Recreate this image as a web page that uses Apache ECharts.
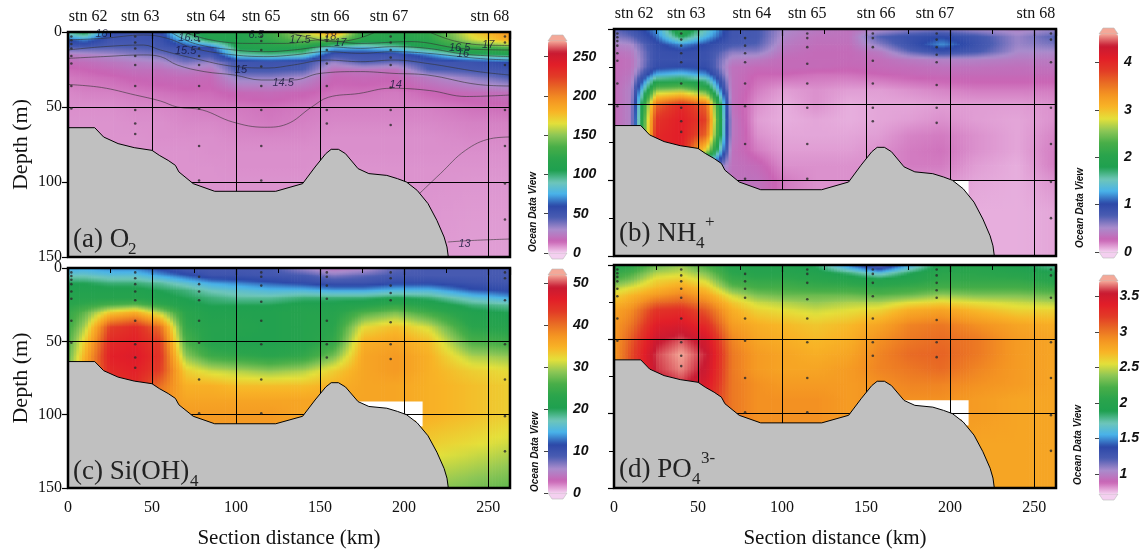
<!DOCTYPE html>
<html>
<head>
<meta charset="utf-8">
<script src="https://cdn.jsdelivr.net/npm/echarts/dist/echarts.min.js"></script>
<style>
  html, body { margin: 0; padding: 0; background: #fff; }
  #chart { width: 1142px; height: 550px; }
</style>
</head>
<body>
<div id="chart"></div>
<script>
// section grid (km along section, depth in m)
var distKm = [0, 10, 25, 40, 55, 70, 85, 102, 120, 140, 158, 176, 195, 215, 240, 263];
var depthM = [0, 5, 10, 15, 20, 25, 30, 40, 50, 60, 70, 80, 90, 100, 120, 150];

// (a) O2, rows = depthM, cols = distKm
var o2Values = [
    [95, 110, 58, 50, 55, 105, 115, 115, 130, 160, 195, 125, 120, 125, 170, 195],
    [62, 70, 50, 50, 52, 80, 110, 112, 125, 145, 150, 118, 115, 120, 160, 185],
    [45, 46, 44, 45, 48, 55, 60, 110, 115, 115, 80, 80, 90, 110, 130, 140],
    [24, 26, 30, 35, 38, 48, 48, 90, 95, 90, 50, 50, 52, 70, 100, 105],
    [18, 19, 22, 25, 28, 38, 33, 50, 52, 50, 33, 45, 40, 50, 52, 60],
    [14, 15, 17, 20, 20, 25, 22, 48, 48, 45, 20, 22, 20, 45, 48, 50],
    [12, 13, 14, 16, 17, 18, 17, 35, 35, 30, 16, 17, 16, 25, 35, 45],
    [10, 11, 11, 12, 13, 14, 14, 17, 18, 16, 13, 13, 12, 15, 18, 20],
    [9, 9, 9, 10, 10, 11, 12, 12, 13, 12, 11, 11, 11, 11, 13, 14],
    [8.5, 8.5, 8.5, 9, 9, 10, 10, 11, 12, 11, 10, 10, 10, 10, 11, 11],
    [8.5, 8.5, 8.5, 8.5, 9, 9, 9, 10, 10, 10, 9, 9, 9, 9, 10, 10],
    [8.5, 8.5, 8.5, 8.5, 8.5, 8.5, 9, 9, 9, 9, 9, 9, 9, 9, 9, 9],
    [8.5, 8.5, 8.5, 8.5, 8.5, 8.5, 8.5, 9, 9, 9, 8.5, 8.5, 8.5, 8.5, 8.5, 8.5],
    [8.5, 8.5, 8.5, 8.5, 8.5, 8.5, 8.5, 8.5, 8.5, 8.5, 8.5, 8.5, 8.5, 8.5, 8, 8],
    [8.5, 8.5, 8.5, 8.5, 8.5, 8.5, 8.5, 8.5, 8.5, 8.5, 8.5, 8.5, 8.5, 8, 7.5, 7.5],
    [8.5, 8.5, 8.5, 8.5, 8.5, 8.5, 8.5, 8.5, 8.5, 8.5, 8.5, 8.5, 8, 7.5, 7, 7]
];

// (b) NH4+
var nh4Values = [
    [0.70, 0.85, 1.20, 2.10, 1.50, 0.85, 0.80, 0.50, 0.40, 0.35, 0.45, 0.55, 0.60, 0.50, 0.45, 0.55],
    [0.60, 0.70, 1.10, 1.80, 1.30, 0.85, 0.80, 0.45, 0.35, 0.35, 0.75, 0.90, 1.00, 0.85, 0.55, 0.75],
    [0.45, 0.50, 0.95, 1.20, 1.00, 0.80, 0.75, 0.40, 0.33, 0.33, 0.60, 0.90, 1.20, 0.90, 0.55, 0.65],
    [0.35, 0.40, 0.90, 0.95, 0.90, 0.60, 0.60, 0.35, 0.30, 0.30, 0.40, 0.70, 0.90, 0.80, 0.50, 0.50],
    [0.30, 0.35, 0.90, 0.90, 0.90, 0.45, 0.40, 0.30, 0.30, 0.30, 0.32, 0.40, 0.45, 0.45, 0.40, 0.40],
    [0.30, 0.35, 0.95, 1.00, 0.95, 0.35, 0.30, 0.30, 0.30, 0.28, 0.30, 0.32, 0.35, 0.35, 0.33, 0.35],
    [0.30, 0.38, 1.30, 1.40, 1.20, 0.35, 0.25, 0.25, 0.22, 0.22, 0.25, 0.28, 0.30, 0.30, 0.30, 0.30],
    [0.30, 0.45, 2.50, 2.60, 2.20, 0.35, 0.20, 0.12, 0.15, 0.12, 0.12, 0.15, 0.18, 0.20, 0.20, 0.20],
    [0.30, 0.45, 3.60, 4.00, 3.60, 0.35, 0.15, 0.08, 0.15, 0.08, 0.10, 0.10, 0.12, 0.12, 0.12, 0.15],
    [0.30, 0.45, 3.90, 4.10, 3.80, 0.40, 0.12, 0.08, 0.10, 0.08, 0.10, 0.12, 0.15, 0.12, 0.10, 0.15],
    [0.30, 0.45, 4.00, 4.10, 3.60, 0.40, 0.15, 0.10, 0.10, 0.10, 0.12, 0.18, 0.20, 0.15, 0.10, 0.18],
    [0.30, 0.45, 4.00, 4.10, 2.80, 0.35, 0.20, 0.12, 0.12, 0.12, 0.15, 0.20, 0.22, 0.15, 0.10, 0.20],
    [0.30, 0.45, 4.00, 4.00, 1.00, 0.35, 0.30, 0.15, 0.15, 0.15, 0.15, 0.20, 0.20, 0.12, 0.08, 0.20],
    [0.30, 0.45, 4.00, 4.00, 0.60, 0.35, 0.35, 0.20, 0.15, 0.15, 0.15, 0.15, 0.15, 0.10, 0.08, 0.15],
    [0.30, 0.45, 4.00, 4.00, 0.60, 0.35, 0.35, 0.20, 0.15, 0.15, 0.15, 0.15, 0.12, 0.08, 0.08, 0.10],
    [0.30, 0.45, 4.00, 4.00, 0.60, 0.35, 0.35, 0.20, 0.15, 0.15, 0.15, 0.15, 0.10, 0.08, 0.08, 0.10]
];

// (c) Si(OH)4
var siValues = [
    [14, 14, 13, 13, 11, 9, 9, 9, 9, 6, 4, 5, 8, 9, 9, 9],
    [17, 17, 16, 16, 14, 12, 10, 10, 9.5, 9, 7, 8, 9, 9, 9, 9],
    [20, 20, 19, 19, 18, 16, 14, 13, 12, 11, 10, 10, 11, 11, 10, 9.5],
    [21, 21, 21, 21, 20, 19, 17, 16, 15, 15, 14, 14, 15, 15, 12, 11],
    [22, 22, 22, 22, 21, 20, 19, 18, 18, 19, 19, 19, 20, 19, 16, 14],
    [23, 24, 26, 27, 24, 21, 20, 20, 20, 21, 21, 22, 24, 22, 19, 18],
    [24, 27, 33, 35, 30, 23, 21, 21, 21, 22, 22, 26, 28, 25, 21, 20],
    [25, 30, 43, 45, 40, 24, 22, 22, 21, 22, 23, 32, 34, 31, 23, 22],
    [26, 33, 45, 46, 43, 26, 22, 21, 21, 22, 24, 35, 36, 34, 26, 25],
    [27, 35, 46, 47, 44, 29, 25, 24, 23, 24, 28, 36, 37, 35, 30, 29],
    [28, 36, 45, 46, 43, 33, 31, 30, 29, 30, 33, 36, 37, 35, 33, 32],
    [30, 36, 44, 45, 40, 35, 35, 34, 34, 34, 35, 36, 36, 35, 34, 33],
    [32, 36, 43, 44, 38, 36, 36, 36, 36, 36, 36, 36, 36, 35, 34, 33],
    [33, 36, 42, 43, 37, 37, 37, 37, 37, 36, 36, 36, 36, 35, 34, 33],
    [33, 36, 42, 42, 37, 37, 37, 37, 37, 36, 36, 35, 34, 33, 32, 31],
    [33, 36, 42, 42, 37, 37, 37, 37, 37, 36, 36, 35, 32, 29, 28, 27]
];

// (d) PO4 3-
var po4Values = [
    [2.0, 2.05, 2.3, 2.4, 2.2, 2.0, 1.95, 1.95, 1.85, 1.45, 1.15, 1.55, 1.95, 2.0, 1.9, 1.75],
    [2.1, 2.2, 2.45, 2.5, 2.35, 2.05, 2.0, 2.0, 1.95, 1.8, 1.6, 1.85, 2.05, 2.05, 2.0, 1.9],
    [2.25, 2.35, 2.6, 2.65, 2.5, 2.15, 2.1, 2.1, 2.05, 2.0, 1.95, 2.0, 2.1, 2.1, 2.1, 2.0],
    [2.45, 2.55, 2.7, 2.8, 2.65, 2.3, 2.2, 2.2, 2.15, 2.15, 2.1, 2.15, 2.2, 2.2, 2.2, 2.15],
    [2.6, 2.7, 2.85, 2.95, 2.8, 2.5, 2.35, 2.3, 2.3, 2.3, 2.25, 2.3, 2.4, 2.35, 2.35, 2.3],
    [2.7, 2.8, 3.05, 3.1, 2.95, 2.65, 2.5, 2.45, 2.4, 2.45, 2.45, 2.55, 2.6, 2.55, 2.5, 2.45],
    [2.8, 2.9, 3.25, 3.3, 3.1, 2.75, 2.6, 2.55, 2.5, 2.55, 2.6, 2.75, 2.8, 2.7, 2.6, 2.6],
    [2.85, 3.0, 3.4, 3.45, 3.3, 2.85, 2.75, 2.7, 2.65, 2.7, 2.8, 2.95, 3.0, 2.9, 2.8, 2.75],
    [2.85, 3.1, 3.52, 3.62, 3.48, 2.95, 2.8, 2.75, 2.7, 2.75, 2.9, 3.0, 3.05, 3.0, 2.85, 2.8],
    [2.85, 3.15, 3.6, 3.72, 3.56, 3.0, 2.85, 2.8, 2.75, 2.8, 2.95, 3.05, 3.08, 3.0, 2.85, 2.8],
    [2.85, 3.15, 3.58, 3.68, 3.52, 3.0, 2.85, 2.8, 2.8, 2.85, 2.95, 3.0, 3.05, 2.95, 2.85, 2.8],
    [2.85, 3.1, 3.5, 3.58, 3.45, 3.0, 2.9, 2.85, 2.85, 2.85, 2.9, 2.95, 2.95, 2.9, 2.85, 2.8],
    [2.85, 3.05, 3.45, 3.5, 3.35, 3.0, 2.9, 2.9, 2.9, 2.85, 2.9, 2.9, 2.9, 2.85, 2.8, 2.8],
    [2.85, 3.05, 3.45, 3.5, 3.35, 3.0, 2.9, 2.9, 2.9, 2.85, 2.85, 2.85, 2.85, 2.85, 2.8, 2.8],
    [2.85, 3.05, 3.45, 3.5, 3.35, 3.0, 2.9, 2.9, 2.9, 2.85, 2.85, 2.85, 2.85, 2.8, 2.8, 2.8],
    [2.85, 3.05, 3.45, 3.5, 3.35, 3.0, 2.9, 2.9, 2.9, 2.85, 2.85, 2.85, 2.85, 2.8, 2.8, 2.8]
];

// bottom topography (km, m)
var bottomDepth = [
    [0, 63.8], [15.9, 63.8], [21.2, 70], [29.8, 74.4], [39.4, 77.1], [50, 78.9],
    [54.3, 82.2], [59.6, 85.6], [63.9, 88.9], [66, 93.3], [74.5, 101.1], [87.3, 106.2],
    [123.6, 106.2], [139.6, 101.1], [147, 90], [153.4, 81.1], [156.6, 78.2], [160.9, 78.2],
    [165.1, 81.1], [172.6, 91.1], [179, 94.4], [189.7, 95.6], [196.1, 97.8], [201.4, 100],
    [207.8, 105.6], [214.2, 114.4], [219.5, 125.6], [223.8, 136.7], [225.5, 143.3], [226.3, 150]
];

// no-data patches
var gapNutrients = [[172, 91], [211, 91], [211, 108], [207, 108], [207, 104], [172, 104]];
var gapAmmonium = [[200, 100], [211, 100], [211, 111], [200, 111]];

// stations
var stationNames = ['stn 62', 'stn 63', 'stn 64', 'stn 65', 'stn 66', 'stn 67', 'stn 68'];
var stationLabelKm = [12, 43, 82, 115, 156, 191, 251];
var stationKm = [2, 40, 78, 115, 154, 192, 260];
var sampleDepths = [
    [3, 5.5, 8, 11, 16, 21, 36, 51],
    [3, 7, 11, 16, 22, 36, 52, 61, 68],
    [6, 11, 16, 22, 36, 51, 76, 99],
    [3, 6, 12, 23, 36, 52, 76, 99],
    [3, 6, 12, 21, 36, 52, 61],
    [3, 7, 12, 17, 22, 37, 52, 62],
    [3, 7, 22, 52, 76, 101, 125]
];

// contour lines drawn over (a)
var iso13 = [[226, 140], [240, 139], [263, 138]];
var iso13b = [[208, 108.9], [221.6, 94.4], [236.5, 78.9], [251.5, 71.1], [263, 70]];
var iso14 = [[0, 35], [20, 37], [40, 42], [55, 46], [65, 50], [80, 52], [98, 60], [117, 63.5], [130, 61.5],
    [145, 50], [155, 43.5], [173, 41], [192, 37.5], [215, 39], [237, 43], [263, 42]];
var iso145 = [[0, 17.6], [21, 16.4], [45, 15.3], [55, 16.4], [65, 22], [81, 26.4], [99, 28.7], [115, 32],
    [134, 32], [150, 27.6], [174, 26.4], [194, 27.6], [214, 28.7], [244, 35], [263, 36]];
var iso15 = [[0, 12], [21, 9.8], [45, 8.7], [55, 12], [75, 17.6], [99, 23], [119, 24], [134, 22],
    [154, 18.7], [174, 19.8], [194, 18.7], [214, 21], [244, 26.4], [263, 28.7]];
var iso155 = [[0, 5.3], [21, 4.2], [45, 2], [59, 4.2], [75, 10.9], [99, 15.3], [119, 16.4], [134, 15.3],
    [154, 13.1], [174, 14.2], [194, 13.1], [214, 14.2], [244, 17.6], [263, 18.7]];
var iso16 = [[61, 0], [75, 7.6], [99, 12], [119, 13.1], [134, 12], [154, 9.8], [174, 10.9], [194, 9.8],
    [214, 10.9], [237, 14.9], [263, 16.4]];
var iso165 = [[69, 0], [85, 5.3], [107, 7.6], [130, 7.6], [150, 5.3], [174, 7.6], [204, 6.4], [234, 11], [263, 12]];
var iso17 = [[130, 0], [143, 3.5], [158, 6.5], [172, 4.5], [183, 0]];
var iso17b = [[215, 0], [230, 6], [248, 8.7], [263, 9]];
var contourLabels = [
    {name: '16', value: [20, 1]}, {name: '16.5', value: [72, 4]}, {name: '15.5', value: [70, 12.5]},
    {name: '15', value: [103, 25.5]}, {name: '14.5', value: [128, 34]}, {name: '14', value: [195, 35.5]},
    {name: '17.5', value: [138, 5]}, {name: '18', value: [156, 3]}, {name: '17', value: [162, 7]},
    {name: '16.5', value: [233, 10.5]}, {name: '16', value: [235, 14.5]}, {name: '17', value: [250, 8.5]},
    {name: '13', value: [236, 141]}, {name: '6.5', value: [112, 2]}
];

// colour bar ticks
var o2Ticks = [0, 50, 100, 150, 200, 250];
var nh4Ticks = [0, 1, 2, 3, 4];
var siTicks = [0, 10, 20, 30, 40, 50];
var po4Ticks = [1, 1.5, 2, 2.5, 3, 3.5];

// ODV default palette, evenly spaced from min to max
var odvColors = ['#f4d0f0', '#c964b4', '#a98ccc', '#4a5cb2', '#2c48a8', '#48b2ea', '#6ec6b8', '#1fa050',
    '#2aa44c', '#48ae48', '#8cc656', '#e4e03a', '#f8b426', '#f49422', '#e86a24', '#e23a26',
    '#e21e28', '#c81a32', '#f4a898'];

var panels = [
    {values: o2Values, min: 0, max: 270, ticks: o2Ticks, grid: {left: 68, top: 32, width: 442, height: 225},
        bar: {left: 548, top: 41, height: 212}, yLabels: true, xLabels: false, stations: true, gap: null, contours: true,
        odv: [533, 212]},
    {values: nh4Values, min: 0, max: 4.6, ticks: nh4Ticks, grid: {left: 614, top: 29, width: 442, height: 227},
        bar: {left: 1099, top: 34, height: 218}, yLabels: false, xLabels: false, stations: true, gap: gapAmmonium,
        odv: [1080, 208]},
    {values: siValues, min: 0, max: 52, ticks: siTicks, grid: {left: 68, top: 268, width: 442, height: 224},
        bar: {left: 548, top: 275, height: 218}, yLabels: true, xLabels: true, stations: false, gap: gapNutrients,
        odv: [535, 452]},
    {values: po4Values, min: 0.72, max: 3.72, ticks: po4Ticks, grid: {left: 614, top: 265, width: 442, height: 227},
        bar: {left: 1099, top: 281, height: 213}, yLabels: false, xLabels: true, stations: false, gap: gapNutrients,
        odv: [1078, 445]}
];

var serif = 'Liberation Serif';
var chart = echarts.init(document.getElementById('chart'));

function colorAt(v, min, max) {
    var t = (v - min) / (max - min);
    return echarts.color.lerp(Math.max(0, Math.min(1, t)), odvColors);
}

function gridItems(values) {
    var out = [];
    for (var j = 0; j < depthM.length; j++) {
        for (var i = 0; i < distKm.length; i++) {
            out.push([distKm[i], depthM[j], values[j][i]]);
        }
    }
    return out;
}

// each cell between four read values is shaded in thin strips
function fieldRenderer(p) {
    return function (params, api) {
        var n = distKm.length;
        var i = params.dataIndex % n, j = Math.floor(params.dataIndex / n);
        if (i >= n - 1 || j >= depthM.length - 1) return null;
        var M = p.values;
        var a = api.coord([distKm[i], depthM[j]]);
        var b = api.coord([distKm[i + 1], depthM[j + 1]]);
        var w = b[0] - a[0], h = b[1] - a[1];
        var strips = Math.max(1, Math.round(w / 3));
        var kids = [];
        for (var k = 0; k < strips; k++) {
            var t = (k + 0.5) / strips;
            var top = M[j][i] + (M[j][i + 1] - M[j][i]) * t;
            var bot = M[j + 1][i] + (M[j + 1][i + 1] - M[j + 1][i]) * t;
            var stops = [];
            for (var s = 0; s <= 4; s++) {
                stops.push({offset: s / 4, color: colorAt(top + (bot - top) * s / 4, p.min, p.max)});
            }
            kids.push({
                type: 'rect',
                shape: {x: a[0] + w * k / strips, y: a[1], width: w / strips + 0.7, height: h + 0.7},
                style: {fill: new echarts.graphic.LinearGradient(0, 0, 0, 1, stops)}
            });
        }
        return {type: 'group', children: kids};
    };
}

function polygonRenderer(points) {
    return function (params, api) {
        if (params.dataIndex !== 0) return null;
        return {type: 'polygon', shape: {points: points.map(function (pt) { return api.coord(pt); })},
            style: {fill: '#fff'}};
    };
}

var grids = [], xAxes = [], yAxes = [], series = [], visualMaps = [], graphics = [];

var dots = [];
stationKm.forEach(function (km, s) {
    sampleDepths[s].forEach(function (d) { dots.push([km, d]); });
});

panels.forEach(function (p, pi) {
    grids.push(Object.assign({show: true, z: 5, borderColor: '#000', borderWidth: 2.5,
        backgroundColor: 'transparent'}, p.grid));
    var xi = xAxes.length;
    xAxes.push({
        type: 'value', gridIndex: pi, min: 0, max: 263, interval: 50, position: 'bottom', z: 2,
        axisLine: {show: false},
        axisTick: {show: true, length: 7, lineStyle: {color: '#000', width: 1.2}},
        minorTick: {show: true, splitNumber: 2, length: 5, lineStyle: {color: '#000'}},
        axisLabel: {show: p.xLabels, showMaxLabel: false, fontFamily: serif, fontSize: 16, color: '#111', margin: 12},
        splitLine: {show: true, lineStyle: {color: '#000', width: 1}},
        name: p.xLabels ? 'Section distance (km)' : '', nameLocation: 'middle', nameGap: 40,
        nameTextStyle: {fontFamily: serif, fontSize: 21, color: '#111'}
    });
    if (p.stations) {
        xAxes.push({
            type: 'value', gridIndex: pi, min: 0, max: 263, position: 'top',
            axisLine: {show: false}, axisTick: {show: false}, splitLine: {show: false},
            axisLabel: {
                show: true, customValues: stationLabelKm, margin: 7, fontFamily: serif, fontSize: 16, color: '#111',
                formatter: function (v) { var k = stationLabelKm.indexOf(v); return k >= 0 ? stationNames[k] : ''; }
            }
        });
    }
    var yi = yAxes.length;
    yAxes.push({
        type: 'value', gridIndex: pi, inverse: true, min: 0, max: 150, interval: 50, z: 2,
        axisLine: {show: false},
        axisTick: {show: true, length: 6, lineStyle: {color: '#000', width: 1.2}},
        minorTick: {show: !p.yLabels, splitNumber: 2, length: 5, lineStyle: {color: '#000'}},
        axisLabel: {show: p.yLabels, fontFamily: serif, fontSize: 16, color: '#111', margin: 6},
        splitLine: {show: true, lineStyle: {color: '#000', width: 1}},
        name: p.yLabels ? 'Depth (m)' : '', nameLocation: 'middle', nameRotate: 90, nameGap: 36,
        nameTextStyle: {fontFamily: serif, fontSize: 22, color: '#111'}
    });

    var fieldIdx = series.length;
    series.push({
        type: 'custom', xAxisIndex: xi, yAxisIndex: yi, z: 1, clip: true, silent: true,
        renderItem: fieldRenderer(p), data: gridItems(p.values), encode: {x: 0, y: 1}
    });
    if (p.gap) {
        series.push({
            type: 'custom', xAxisIndex: xi, yAxisIndex: yi, z: 1.5, clip: true, silent: true,
            renderItem: polygonRenderer(p.gap), data: p.gap, encode: {x: 0, y: 1}
        });
    }
    if (p.contours) {
        [iso13, iso13b, iso14, iso145, iso15, iso155, iso16, iso165, iso17, iso17b].forEach(function (c) {
            series.push({
                type: 'line', xAxisIndex: xi, yAxisIndex: yi, data: c, smooth: 0.4, symbol: 'none', z: 1.8,
                silent: true, lineStyle: {color: '#333', width: 0.7, opacity: 0.85}
            });
        });
        series.push({
            type: 'scatter', xAxisIndex: xi, yAxisIndex: yi, data: contourLabels, symbolSize: 1, z: 1.9,
            silent: true, itemStyle: {color: 'transparent'},
            label: {show: true, position: 'inside', formatter: '{b}', fontFamily: 'Liberation Sans',
                fontStyle: 'italic', fontSize: 11, color: '#141438'}
        });
    }
    series.push({
        type: 'line', xAxisIndex: xi, yAxisIndex: yi, data: bottomDepth, symbol: 'none', z: 3, silent: true,
        lineStyle: {color: '#000', width: 1}, areaStyle: {color: '#c0c0c0', opacity: 1, origin: 'end'}
    });
    series.push({
        type: 'scatter', xAxisIndex: xi, yAxisIndex: yi, data: dots, symbolSize: 2.6, z: 4, silent: true,
        itemStyle: {color: '#2a2a2a'}
    });

    visualMaps.push({
        type: 'continuous', seriesIndex: fieldIdx, dimension: 2, min: p.min, max: p.max,
        left: p.bar.left, top: p.bar.top, itemWidth: 19, itemHeight: p.bar.height, padding: 0,
        calculable: false, hoverLink: false, orient: 'vertical', inRange: {color: odvColors}
    });
});

// colour bar scales
panels.forEach(function (p, pi) {
    var gi = grids.length;
    grids.push({left: p.bar.left, top: p.bar.top, width: 19, height: p.bar.height, show: false});
    xAxes.push({type: 'value', gridIndex: gi, show: false});
    yAxes.push({
        type: 'value', gridIndex: gi, min: p.min, max: p.max, position: 'right',
        axisLine: {show: false}, splitLine: {show: false},
        axisTick: {show: true, inside: true, length: 4, customValues: p.ticks, lineStyle: {color: '#444'}},
        axisLabel: {customValues: p.ticks, margin: 6, fontFamily: 'Liberation Sans', fontStyle: 'italic',
            fontWeight: 'bold', fontSize: 14, color: '#111'}
    });
    var L = p.bar.left, T = p.bar.top, B = p.bar.top + p.bar.height;
    graphics.push({type: 'polygon', shape: {points: [[L, T], [L + 4, T - 6], [L + 15, T - 6], [L + 19, T]]},
        style: {fill: odvColors[odvColors.length - 1], stroke: '#bbb', lineWidth: 0.6}});
    graphics.push({type: 'polygon', shape: {points: [[L, B], [L + 4, B + 6], [L + 15, B + 6], [L + 19, B]]},
        style: {fill: odvColors[0], stroke: '#bbb', lineWidth: 0.6}});
    graphics.push({type: 'text', x: p.odv[0], y: p.odv[1], rotation: Math.PI / 2,
        style: {text: 'Ocean Data View', textAlign: 'center', textVerticalAlign: 'middle',
            font: 'italic bold 10px "Liberation Sans"', fill: '#111'}});
});

// panel titles with sub/superscripts
function txt(x, y, s, size) {
    graphics.push({type: 'text', x: x, y: y, z: 10,
        style: {text: s, textAlign: 'left', textVerticalAlign: 'middle', font: size + 'px "Liberation Serif"', fill: '#222'}});
}
txt(73, 240, '(a) O', 27); txt(128, 250, '2', 17);
txt(619, 234, '(b) NH', 27); txt(696, 244, '4', 17); txt(705, 223, '+', 17);
txt(73, 472, '(c) Si(OH)', 27); txt(190, 482, '4', 17);
txt(619, 470, '(d) PO', 27); txt(692, 480, '4', 17); txt(701, 459, '3-', 17);

chart.setOption({
    animation: false,
    grid: grids,
    xAxis: xAxes,
    yAxis: yAxes,
    visualMap: visualMaps,
    series: series,
    graphic: graphics
});
</script>
</body>
</html>
